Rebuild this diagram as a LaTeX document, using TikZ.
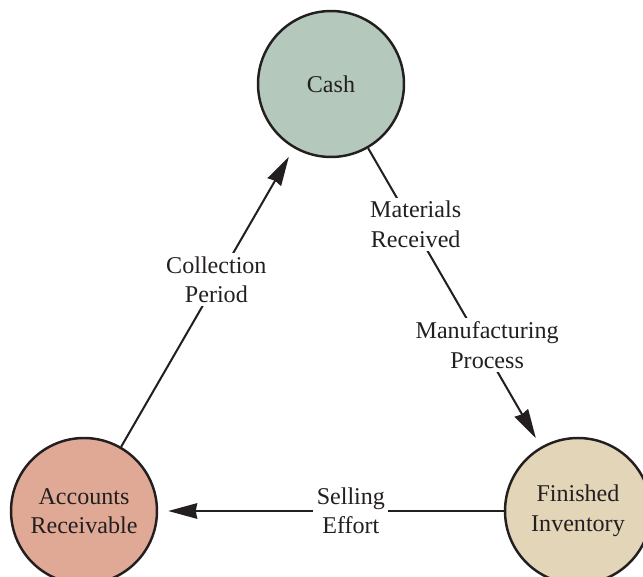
\documentclass[tikz,border=0pt]{standalone}
\usepackage{fontspec}
\setmainfont{Liberation Serif}
\usepackage{xcolor}
\usepackage{tikz}
\usetikzlibrary{arrows.meta,shapes,calc}
\definecolor{cashgreen}{HTML}{B4C9BC}
\definecolor{recvred}{HTML}{E0A996}
\definecolor{invtan}{HTML}{E3D5B8}
\definecolor{inkgray}{HTML}{231F20}
\tikzstyle{stock}=[circle, draw=inkgray,text=inkgray,align=center,% filled circle for one stage of the cycle
minimum size=2.92cm,line width=1.4pt,font=\fontsize{13.7}{16.8}\selectfont]
\tikzstyle{flow}=[draw=inkgray,line width=1.15pt,shorten >=0.2cm]
\tikzstyle{flowlbl}=[fill=white,text=inkgray,align=center,inner sep=2pt,font=\fontsize{13.7}{16.8}\selectfont]

\begin{document}
\begin{tikzpicture}[x=0.02cm,y=-0.02cm]

\useasboundingbox (0,0) rectangle (643,577);

\node[stock,fill=cashgreen] (cash) at (331,84) {Cash};
\node[stock,fill=recvred] (ar) at (84,511) {Accounts\\Receivable};
\node[stock,fill=invtan] (fi) at (578,511) {Finished\\Inventory};

\draw [flow,-{Stealth[length=0.58cm,width=0.31cm,inset=0.03cm]}]  (cash) --
  node[flowlbl,pos=0.255,xshift=0.07cm] {Materials\\Received}
  node[flowlbl,pos=0.66,xshift=0.1cm] {Manufacturing\\Process} (fi);
\draw [flow,-{Stealth[length=0.58cm,width=0.31cm,inset=0.03cm]}]  (fi) --
  node[flowlbl,pos=0.4425] {Selling\\Effort} (ar);
\draw [flow,-{Stealth[length=0.58cm,width=0.31cm,inset=0.03cm]}]  (ar) --
  node[flowlbl,pos=0.56,xshift=-0.03cm] {Collection\\Period} (cash);

\end{tikzpicture}
\end{document}
